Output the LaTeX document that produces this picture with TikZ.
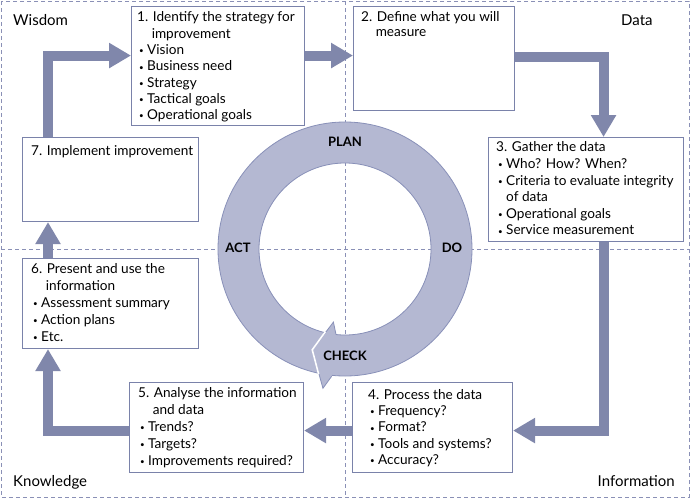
\documentclass[tikz,border=0pt]{standalone}
\usepackage{fontspec}
\setmainfont{Lato}
\usetikzlibrary{arrows.meta}

\definecolor{flowcol}{HTML}{8087AB}
\definecolor{boxcol}{HTML}{7A82AA}
\definecolor{ringfill}{HTML}{B4B8D2}
\definecolor{ringline}{HTML}{8890B8}
\definecolor{dashcol}{HTML}{8A90B6}

\newcommand\bl{\makebox[8pt][l]{\raisebox{0.8pt}{\fontsize{8}{8}\selectfont •}}}
\newcommand\bi{\hspace*{2pt}\bl}

\tikzset{
  box/.style={draw=boxcol, line width=1.1pt, fill=white, inner sep=0pt, anchor=north west},
  txt/.style={anchor=north west, inner sep=0pt, align=left, font=\fontsize{13.6}{16.6}\selectfont},
  flow/.style={draw=flowcol, line width=10pt, line join=miter, -{Triangle[width=24pt,length=22pt]}},
  guide/.style={draw=dashcol, line width=0.8pt, dash pattern=on 4pt off 3pt},
  phase/.style={font=\fontsize{13}{15}\selectfont\bfseries, inner sep=0pt},
  zone/.style={font=\fontsize{15}{18}\selectfont, inner sep=0pt}
}

\begin{document}
\begin{tikzpicture}[x=1pt, y=-1pt]
\useasboundingbox (0,0) rectangle (693,498);

% quadrant guides
\draw[guide] (1,1) rectangle (689,497);
\draw[guide] (345,1) -- (345,497);
\draw[guide] (1,249) -- (689,249);

% quadrant names
\node[zone, anchor=base west] (wisdom) at (13,25) {Wisdom};
\node[zone, anchor=base west] (data) at (621,25) {Data};
\node[zone, anchor=base west] (knowledge) at (13,486) {Knowledge};
\node[zone, anchor=base east] (information) at (675,486) {Information};

% PDCA ring
\begin{scope}[shift={(345,249)}]
  \fill[ringfill, even odd rule] (0,0) circle[radius=127] (0,0) circle[radius=86];
  \draw[ringline, line width=0.8pt] (0,0) circle[radius=127] (0,0) circle[radius=86];
  % arrow head
  \fill[ringfill] (96:86) -- (99:74) -- (108:106) -- (99:141) -- (96:128) -- cycle;
  \draw[ringline, line width=0.8pt] (96:86) -- (99:74) -- (108:106) -- (99:141) -- (96:128);
  \draw[white, line width=1.6pt] (103.4:85.2) -- (108:106) -- (101.9:127.8);
\end{scope}
\node[phase] (plan) at (345,142) {PLAN};
\node[phase] (do) at (452,248) {DO};
\node[phase] (check) at (345,356) {CHECK};
\node[phase] (act) at (238,248) {ACT};

% steps
\node[box, minimum width=173pt, minimum height=119pt] (b1) at (131,6) {};
\node[box, minimum width=161pt, minimum height=104pt] (b2) at (353,6) {};
\node[box, minimum width=195pt, minimum height=104pt] (b3) at (488,137) {};
\node[box, minimum width=160pt, minimum height=90pt] (b4) at (352,382) {};
\node[box, minimum width=174pt, minimum height=90pt] (b5) at (129,382) {};
\node[box, minimum width=176pt, minimum height=90pt] (b6) at (22,258) {};
\node[box, minimum width=176pt, minimum height=84pt] (b7) at (22,137) {};

\node[txt, font=\fontsize{13.6}{16.3}\selectfont] (t1) at ([shift={(6,4.7)}]b1.north west)
  {\rule{0pt}{11pt}1. Identify the strategy for\\
   \hphantom{1.\ }improvement\\
   \bi Vision\\ \bi Business need\\ \bi Strategy\\ \bi Tactical goals\\ \bi Operational goals};
\node[txt, font=\fontsize{13.6}{15}\selectfont] (t2) at ([shift={(8,4.7)}]b2.north west)
  {\rule{0pt}{11pt}2. Define what you will\\ \hphantom{2.\ }measure};
\node[txt] (t3) at ([shift={(8,3.7)}]b3.north west)
  {\rule{0pt}{11pt}3. Gather the data\\
   \bi Who? How? When?\\ \bi Criteria to evaluate integrity\\ \hspace*{10pt}of data\\
   \bi Operational goals\\ \bi Service measurement};
\node[txt, font=\fontsize{13.6}{16.3}\selectfont] (t4) at ([shift={(16,6)}]b4.north west)
  {\rule{0pt}{11pt}4. Process the data\\
   \bi Frequency?\\ \bi Format?\\ \bi Tools and systems?\\ \bi Accuracy?};
\node[txt, font=\fontsize{13.6}{16.8}\selectfont] (t5) at ([shift={(9,4.7)}]b5.north west)
  {\rule{0pt}{11pt}5. Analyse the information\\ \hphantom{5.\ }and data\\
   \bi Trends?\\ \bi Targets?\\ \bi Improvements required?};
\node[txt, font=\fontsize{13.6}{17}\selectfont] (t6) at ([shift={(9,4.3)}]b6.north west)
  {\rule{0pt}{11pt}6. Present and use the\\ \hphantom{6.\ }information\\
   \bi Assessment summary\\ \bi Action plans\\ \bi Etc.};
\node[txt] (t7) at ([shift={(9,7)}]b7.north west)
  {\rule{0pt}{11pt}7. Implement improvement};

% flow arrows
\draw[flow] ([xshift=26pt]b7.north west) |- ([yshift=10.5pt]b1.west);
\draw[flow] ([yshift=10.5pt]b1.east) -- ([yshift=10.5pt]b1.east -| b2.west);
\draw[flow] ([yshift=2pt]b2.east) -| ([xshift=17.5pt]b3.north);
\draw[flow] ([xshift=17.5pt]b3.south) |- ([yshift=-3pt]b4.east);
\draw[flow] ([yshift=-3pt]b4.west) -- ([yshift=-3pt]b4.west -| b5.east);
\draw[flow] ([yshift=-3pt]b5.west) -| ([xshift=26pt]b6.south west);
\draw[flow] ([xshift=26pt]b6.north west) -- ([xshift=26pt]b7.south west);

\end{tikzpicture}
\end{document}
